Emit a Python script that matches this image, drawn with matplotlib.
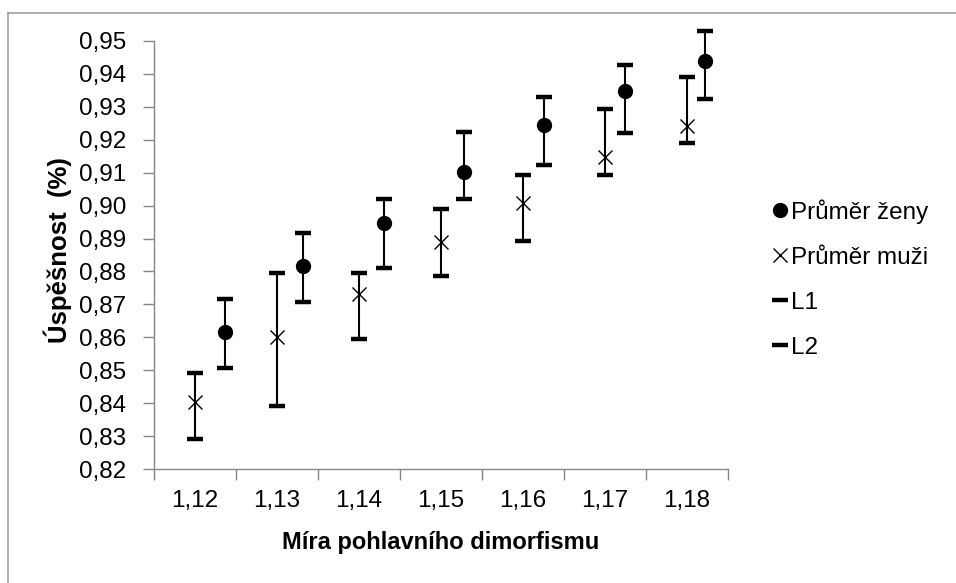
import matplotlib.pyplot as plt
import numpy as np

plt.rcParams['font.family'] = ['Liberation Sans', 'DejaVu Sans']

# hodnoty
dimorf = [1.12, 1.13, 1.14, 1.15, 1.16, 1.17, 1.18]
x_muzi = [1.1200, 1.1300, 1.1400, 1.1500, 1.1600, 1.1700, 1.1800]
x_zeny = [1.1237, 1.1332, 1.1431, 1.1528, 1.1626, 1.1724, 1.1822]

muzi = [0.8405, 0.8600, 0.8732, 0.8890, 0.9007, 0.9146, 0.9241]
muzi_l1 = [0.8493, 0.8794, 0.8794, 0.8989, 0.9093, 0.9292, 0.9389]
muzi_l2 = [0.8291, 0.8393, 0.8594, 0.8786, 0.8892, 0.9092, 0.9189]

zeny = [0.8617, 0.8818, 0.8946, 0.9103, 0.9243, 0.9347, 0.9438]
zeny_l1 = [0.8716, 0.8916, 0.9019, 0.9224, 0.9328, 0.9426, 0.9529]
zeny_l2 = [0.8508, 0.8708, 0.8811, 0.9019, 0.9122, 0.9219, 0.9322]

yticks = np.arange(0.82, 0.9501, 0.01)

fig = plt.figure(figsize=(9.56, 5.83), dpi=100)
ax = fig.add_axes([154/956, 1 - 469.3/583, 574/956, 428.6/583])

gray = "#868686"

# svislé čáry mezi L1 a L2
ax.vlines(x_muzi, muzi_l2, muzi_l1, color="black", lw=1.5, clip_on=False)
ax.vlines(x_zeny, zeny_l2, zeny_l1, color="black", lw=1.5, clip_on=False)

ax.plot(x_zeny, zeny, "o", color="black", ms=10, label="Průměr ženy", zorder=3, clip_on=False)
ax.plot(x_muzi, muzi, "x", color="black", ms=10, mew=1.0, label="Průměr muži", zorder=3, clip_on=False)
ax.plot(x_muzi + x_zeny, muzi_l1 + zeny_l1, "_", color="black", ms=11, mew=3.2, label="L1", clip_on=False)
ax.plot(x_muzi + x_zeny, muzi_l2 + zeny_l2, "_", color="black", ms=11, mew=3.2, label="L2", clip_on=False)

ax.set_xlim(1.115, 1.185)
ax.set_ylim(0.82, 0.95)

ax.set_yticks(yticks)
ax.set_yticklabels([("%.2f" % v).replace(".", ",") for v in yticks])
ax.set_xticks(np.arange(1.115, 1.1851, 0.01))
ax.set_xticklabels([])
ax.set_xticks(dimorf, minor=True)
ax.set_xticklabels([("%.2f" % v).replace(".", ",") for v in dimorf], minor=True)

ax.tick_params(axis="both", which="major", direction="out", length=8, width=1, color=gray, labelsize=17.5)
ax.tick_params(axis="x", which="minor", length=0, labelsize=17.5, pad=15)
ax.tick_params(axis="y", pad=12)

for s in ["top", "right"]:
    ax.spines[s].set_visible(False)
for s in ["left", "bottom"]:
    ax.spines[s].set_color(gray)
    ax.spines[s].set_linewidth(1)

fig.text(58/956, 1 - 250/583, "Úspěšnost  (%)", rotation=90, ha="center", va="center",
         fontsize=18.5, fontweight="bold")
fig.text(441/956, 1 - 543/583, "Míra pohlavního dimorfismu", ha="center", va="center",
         fontsize=17, fontweight="bold")

ax.legend(loc="upper left", bbox_to_anchor=(773/956, 1 - 199/583), bbox_transform=fig.transFigure,
          frameon=False, fontsize=17.5, handlelength=0.6, handletextpad=0.15, labelspacing=0.95,
          borderaxespad=0, borderpad=0)

# rámeček oblasti grafu
fig.add_artist(plt.Line2D([8/956, 8/956], [0, 1 - 13/583], color="#a0a0a0", lw=1.2))
fig.add_artist(plt.Line2D([8/956, 1], [1 - 13/583, 1 - 13/583], color="#a0a0a0", lw=1.2))

fig.savefig("out.png", dpi=100)
